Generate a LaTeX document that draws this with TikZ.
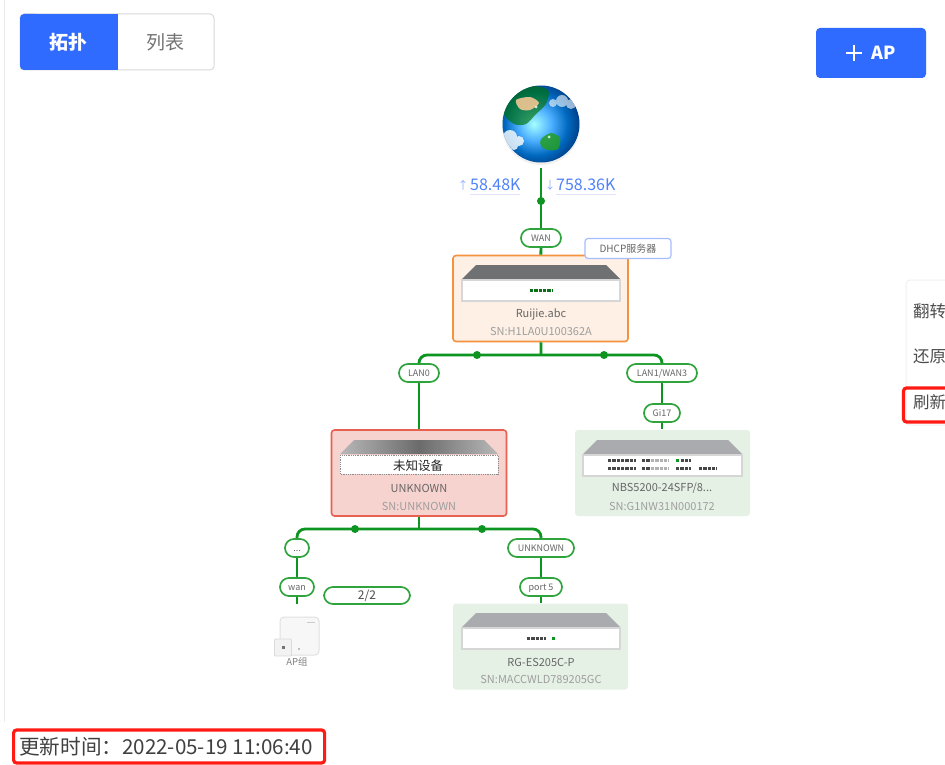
\documentclass[tikz,border=0pt]{standalone}
\usepackage{xcolor}
\usepackage{fontspec}
\setmainfont{Noto Sans CJK SC}
\definecolor{linkgreen}{HTML}{0E9420}
\definecolor{pillgreen}{HTML}{2FA33C}
\definecolor{btnblue}{HTML}{2F6BFF}
\definecolor{trafficblue}{HTML}{4F82FA}
\definecolor{tagblue}{HTML}{A5BEFF}
\definecolor{alertred}{HTML}{FF1A14}
\definecolor{routerfill}{HTML}{FEF0E5}
\definecolor{routerline}{HTML}{F5923E}
\definecolor{unknownfill}{HTML}{F7D3CF}
\definecolor{unknownline}{HTML}{E8604F}
\definecolor{okfill}{HTML}{E6F1E6}
\definecolor{lidgrey}{HTML}{A9ABAE}
\definecolor{lidnormal}{HTML}{6E7072}
\pgfdeclareradialshading{globeshade}{\pgfpoint{-4bp}{0bp}}{
color(0bp)=(cyan!35!white);
color(9bp)=(cyan!55!blue!70!white);
color(17bp)=(blue!45!cyan!75!black);
color(24bp)=(blue!55!cyan!50!black);
color(50bp)=(blue!60!black!60!black)}
\newcommand{\fsize}[1]{\fontsize{#1}{#1}\selectfont}
% front of a device: left, right, top, colour of the lid, plate height
\newcommand{\chassis}[5]{
\fill[#4] (#1,#3+14) -- (#1+14,#3) -- (#2-14,#3) -- (#2,#3+14) -- cycle;
\draw[draw=black!16, fill=white, line width=1.2pt] (#1,#3+15) rectangle (#2,#3+15+#5);
}
\tikzset{
link/.style={draw=linkgreen, line width=2.8pt},
linkdot/.style={circle, fill=linkgreen, inner sep=0, minimum size=8pt},
pill/.style={draw=pillgreen, line width=1.7pt, fill=white, rounded corners=9pt, minimum height=18pt, inner sep=0, text=black!60, text height=6.5pt, text depth=.5pt, font=\fsize{9}},
devbox/.style={rounded corners=3pt, line width=1.6pt, minimum width=175pt, minimum height=86pt, inner sep=0},
devname/.style={text=black!60, font=\fsize{11}, inner sep=0},
devsn/.style={text=black!38, font=\fsize{11}, inner sep=0},
menutext/.style={anchor=west, text=black!70, font=\fsize{16.5}, inner sep=0},
redmark/.style={draw=alertred, line width=3.2pt, rounded corners=3pt},
port/.style={draw=black!72, line width=3pt, dash pattern=on 3.4pt off .9pt},
portoff/.style={draw=black!30, line width=3pt, dash pattern=on 3.4pt off .9pt},
porton/.style={draw=linkgreen, line width=3pt, dash pattern=on 3.4pt off .9pt}
}

\begin{document}
\begin{tikzpicture}[x=1pt, y=-1pt]
\useasboundingbox (0,0) rectangle (945,765);
\clip (0,0) rectangle (945,765);
\fill[white] (0,0) rectangle (945,765);
\draw[black!8, line width=1pt] (4,0) -- (4,722);

% buttons
\node[draw=black!15, fill=white, line width=1pt, rounded corners=4pt, minimum width=194pt, minimum height=56pt] (tabs) at (117,42) {};
\fill[btnblue, rounded corners=4pt] (20,14) rectangle (40,70);
\fill[btnblue] (30,14) rectangle (118,70);
\node[text=white, font=\fsize{19}\bfseries, inner sep=0] (tabtopo) at (68,42) {拓扑};
\node[text=black!55, font=\fsize{19}, inner sep=0] (tablist) at (165,42) {列表};
\node[fill=btnblue, rounded corners=4pt, minimum width=110pt, minimum height=50pt] (addap) at (871,53) {};
\draw[white, line width=1.4pt] (846,53) -- (862,53) (854,45) -- (854,61);
\node[text=white, font=\fsize{18}\bfseries, inner sep=0] (addtext) at (884,53) {AP};

% globe
\fill[black!6] (541,126) circle (39);
\begin{scope}
\clip (541,124) circle (38.5);
\shade[shading=globeshade] (495,78) rectangle (587,170);
\fill[green!45!black, opacity=.65] plot[smooth cycle] coordinates {(503,112) (510,94) (530,86) (548,90) (546,104) (536,114) (526,124) (514,124)};
\fill[orange!40!white, opacity=.85] plot[smooth cycle] coordinates {(516,100) (530,97) (539,103) (530,110) (520,109)};
\fill[green!55!black!85, opacity=.85] plot[smooth cycle] coordinates {(541,139) (551,133) (560,138) (558,149) (548,150) (541,146)};
\fill[white, opacity=.8] (510,137) circle (7) (519,141) circle (5) (505,143) circle (6) (514,146) circle (4);
\fill[white, opacity=.6] (553,103) circle (4) (562,101) circle (6) (571,104) circle (5);
\fill[white, opacity=.8] (536,107) circle (1.5) (549,137) circle (1.5);
\end{scope}
\node[circle, minimum size=78pt, inner sep=0] (globe) at (541,124) {};

% traffic
\node[text=trafficblue!65, font=\fsize{11}, inner sep=0] (uparrow) at (463,185) {↑};
\node[text=trafficblue, font=\fsize{16}, inner sep=0, anchor=west] (uprate) at (470,185) {58.48K};
\node[text=trafficblue!65, font=\fsize{11}, inner sep=0] (downarrow) at (550,185) {↓};
\node[text=trafficblue, font=\fsize{16}, inner sep=0, anchor=west] (downrate) at (556,185) {758.36K};
\draw[blue!12, line width=1pt] (470,194) -- (520,194) (556,194) -- (616,194);

% router
\node[devbox, draw=routerline, fill=routerfill] (router) at (540.5,298.5) {};
\chassis{462}{620}{265}{lidnormal}{21}
\draw[port, draw=linkgreen!75!black] (530,290) -- (552,290);
\node[devname] (routername) at (541,314) {Ruijie.abc};
\node[devsn] (routersn) at (541,331) {SN:H1LA0U100362A};
\node[draw=tagblue, fill=white, line width=1.2pt, rounded corners=3pt, minimum width=86pt, minimum height=20pt, inner sep=0, text=black!60, font=\fsize{10}] (dhcp) at (628,248.5) {DHCP服务器};

% unknown device
\node[devbox, draw=unknownline, fill=unknownfill] (unknown) at (419,473) {};
\shade[left color=black!28, right color=black!28, middle color=black!58] (340,454) -- (354,440) -- (484,440) -- (498,454) -- cycle;
\draw[black!45, fill=white, densely dotted, line width=.8pt] (340,455) rectangle (498,474);
\node[text=black!85, font=\fsize{12.5}, inner sep=0] (unknowntag) at (418,466) {未知设备};
\node[devname] (unknownname) at (419,488) {UNKNOWN};
\node[devsn] (unknownsn) at (419,506) {SN:UNKNOWN};

% switch on the right
\node[devbox, fill=okfill, draw=none] (nbs) at (662.5,473) {};
\chassis{583}{742}{440}{lidgrey}{21}
\draw[port] (608,460) -- (636,460) (608,468.5) -- (636,468.5);
\draw[port] (642,460) -- (651,460) (642,468.5) -- (651,468.5);
\draw[portoff] (651,460) -- (669,460) (651,468.5) -- (669,468.5);
\draw[porton] (676,460) -- (680,460);
\draw[port] (680.5,460) -- (691,460) (676,468.5) -- (691,468.5) (699,468.5) -- (717,468.5);
\node[devname] (nbsname) at (662,488) {NBS5200-24SFP/8...};
\node[devsn] (nbssn) at (662,506) {SN:G1NW31N000172};

% switch at the bottom
\node[devbox, fill=okfill, draw=none] (es) at (540.5,646.5) {};
\chassis{462}{620}{613}{lidgrey}{21}
\draw[port] (527,638) -- (546,638);
\draw[porton] (552,638) -- (555.4,638);
\node[devname] (esname) at (541,662) {RG-ES205C-P};
\node[devsn] (essn) at (541,679) {SN:MACCWLD789205GC};

% ap group
\node[draw=black!12, fill=black!3, line width=1pt, rounded corners=4pt, minimum width=39pt, minimum height=38pt, inner sep=0] (apbig) at (299.5,636) {};
\node[draw=black!14, fill=black!5, line width=.8pt, rounded corners=1pt, minimum width=17pt, minimum height=17pt, inner sep=0] (apsmall) at (283,647.5) {};
\fill[black!55] (281.5,646) rectangle (284.5,649);
\fill[black!25] (298,648) rectangle (300,649.5);
\fill[black!20] (307,622) rectangle (315,623);
\node[text=black!50, font=\fsize{9.5}, inner sep=0] (apname) at (297,662) {AP组};

% ports
\node[pill, minimum width=40pt] (wan) at (541,238) {WAN};
\node[pill, minimum width=40pt] (lan) at (419,373) {LAN0};
\node[pill, minimum width=70pt] (lanwan) at (662,373) {LAN1/WAN3};
\node[pill, minimum width=36pt] (gi) at (662,413) {Gi17};
\node[pill, minimum width=24pt] (dots) at (297,548) {...};
\node[pill, minimum width=34pt] (apwan) at (297,587) {wan};
\node[pill, minimum width=66pt] (unport) at (541,548) {UNKNOWN};
\node[pill, minimum width=42pt] (portfive) at (541,587) {port 5};
\node[pill, minimum width=86pt, minimum height=17pt, text=black!70, text height=8.5pt, font=\fsize{12}] (count) at (367,595.5) {2/2};

% links
\coordinate (busa) at (541,355);
\coordinate (busb) at (419,529);
\coordinate (apend) at (297,604);
\draw[link] (541,168) -- (wan);
\draw[link] (wan) -- (router);
\draw[link] (router) -- (busa);
\draw[link, rounded corners=8pt] (lan) |- (busa) -| (lanwan);
\draw[link] (lan) -- (unknown);
\draw[link] (lanwan) -- (gi);
\draw[link] (gi) -- (gi |- nbs.north);
\draw[link] (unknown) -- (busb);
\draw[link, rounded corners=8pt] (dots) |- (busb) -| (unport);
\draw[link] (dots) -- (apwan);
\draw[link] (apwan) -- (apend);
\draw[link] (unport) -- (portfive);
\draw[link] (portfive) -- (portfive |- es.north);
\node[linkdot] (dota) at (541,201) {};
\node[linkdot] (dotb) at (477,355) {};
\node[linkdot] (dotc) at (604,355) {};
\node[linkdot] (dotd) at (355,529) {};
\node[linkdot] (dote) at (482,529) {};

% side menu
\draw[black!6, line width=1pt, rounded corners=4pt] (950,280) -- (906,280) -- (906,425) -- (950,425);
\node[menutext] (flip) at (913,311) {翻转};
\node[menutext] (reset) at (913,356) {还原};
\node[menutext] (refresh) at (913,402) {刷新};
\draw[redmark] (955,388) -- (903.5,388) -- (903.5,422) -- (955,422);

% update time
\node[anchor=west, inner sep=0, text=black!75, font=\fsize{20.6}] (updated) at (19,747) {更新时间：2022-05-19 11:06:40};
\node[redmark, minimum width=311pt, minimum height=33pt, inner sep=0, anchor=west] (updatedmark) at (12,746.5) {};
\end{tikzpicture}
\end{document}
